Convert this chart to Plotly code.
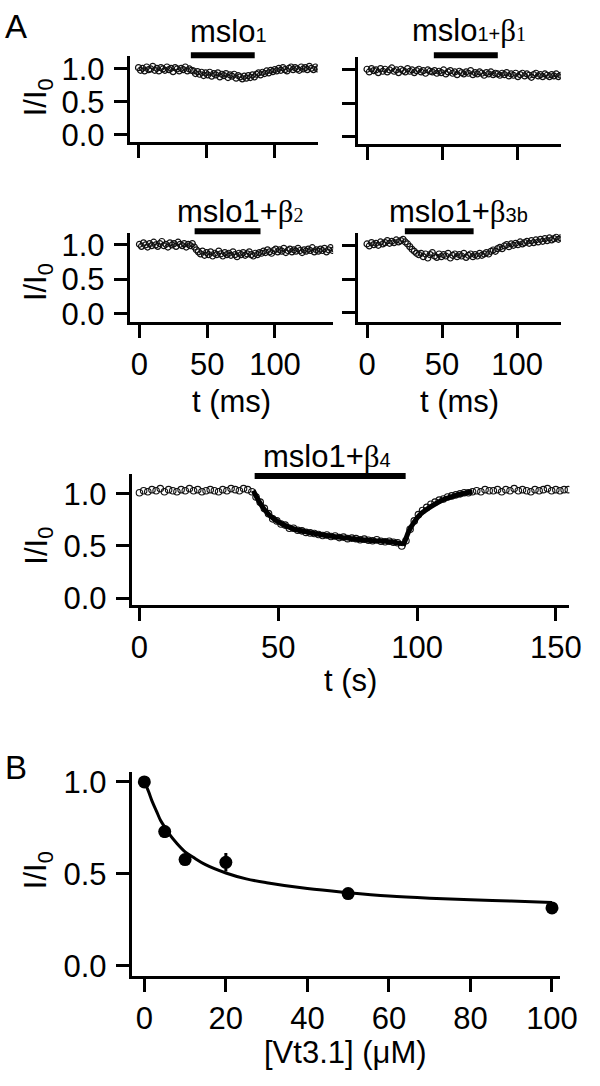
import numpy as np
import plotly.graph_objects as go

W, H = 600, 1086
def fx(p): return p / W
def fy(p): return 1 - p / H

FONT = "Liberation Sans, Arial, sans-serif"
SERIF = "Liberation Serif, Times New Roman, serif"
FS = 31

# ---------------- data ----------------
# Panel A traces: normalised current I/I0, sampled every 1.5 ms
i_mslo1 = [1.02,0.98,1.01,0.97,1.03,0.99,1.00,1.04,0.98,1.01,0.97,1.02,1.00,0.98,1.03,0.99,1.01,0.96,1.02,1.00,0.97,1.01,0.99,1.03,0.97,1.00,0.98,
           0.97,0.93,0.96,0.92,0.95,0.90,0.94,0.91,0.95,0.89,0.93,0.91,0.94,0.88,0.92,0.90,0.93,0.87,0.91,0.89,0.92,0.86,0.90,0.88,0.85,0.89,0.86,0.90,0.87,0.91,0.88,0.92,
           0.94,0.91,0.95,0.93,0.97,0.94,0.98,0.96,0.99,0.97,1.01,0.98,1.02,0.99,0.97,1.01,1.03,0.99,1.02,1.00,0.98,1.03,1.00,1.02,0.99,1.04,1.01,0.99,1.03,1.00,1.02,1.01]
i_beta1 = [1.01,0.97,1.02,0.99,1.00,0.96,1.02,0.98,1.01,0.97,1.00,1.03,0.98,1.00,0.96,1.01,0.99,0.97,1.02,0.98,1.00,0.96,0.99,1.01,0.97,0.99,0.95,1.00,0.98,0.97,
           0.99,0.95,0.98,0.96,1.00,0.94,0.97,0.99,0.95,0.97,0.93,0.98,0.96,0.94,0.97,0.95,0.99,0.93,0.96,0.94,0.97,0.95,0.92,0.96,0.94,0.97,0.93,0.95,0.94,
           0.92,0.95,0.93,0.96,0.91,0.94,0.92,0.95,0.90,0.93,0.95,0.91,0.94,0.92,0.89,0.93,0.95,0.91,0.93,0.90,0.94,0.92,0.90,0.93,0.91,0.94,0.90,0.92,0.91]
i_beta2 = [1.01,0.98,1.03,1.00,0.97,1.02,0.99,1.04,1.00,0.98,1.02,1.05,0.99,1.01,0.97,1.03,1.00,1.02,0.98,1.04,1.01,0.99,1.02,0.97,1.01,0.99,1.02,
           0.97,0.93,0.90,0.87,0.91,0.85,0.89,0.86,0.90,0.84,0.88,0.86,0.91,0.87,0.84,0.89,0.86,0.88,0.85,0.90,0.86,0.83,0.88,0.86,0.89,0.85,0.87,0.90,0.86,0.84,0.88,0.86,0.89,
           0.88,0.91,0.89,0.93,0.90,0.88,0.92,0.94,0.90,0.93,0.91,0.95,0.89,0.92,0.94,0.90,0.93,0.91,0.95,0.92,0.89,0.93,0.91,0.94,0.92,0.96,0.90,0.93,0.91,0.94,0.92,0.95,0.90,0.93,0.96,0.92,0.94]
i_beta3b = [1.03,1.00,1.05,1.02,1.04,1.01,1.06,1.03,1.05,1.08,1.04,1.07,1.05,1.09,1.06,
            1.08,1.10,1.06,1.03,0.99,0.95,0.92,0.89,0.87,
            0.89,0.84,0.88,0.82,0.87,0.90,0.85,0.83,0.88,0.84,0.87,0.85,0.89,0.82,0.86,0.88,0.84,0.87,0.85,0.89,0.83,0.86,0.88,0.84,0.87,0.85,0.89,0.86,0.88,
            0.90,0.88,0.92,0.94,0.92,0.96,0.98,0.96,1.00,1.02,0.99,1.03,1.01,1.04,1.02,
            1.06,1.03,1.05,1.07,1.04,1.08,1.05,1.09,1.06,1.10,1.07,1.11,1.08,1.12,1.09,1.11,1.13,1.10,1.12,1.11]
dt_ms = 1.5
t_mslo1 = np.arange(len(i_mslo1)) * dt_ms
t_beta1 = np.arange(len(i_beta1)) * dt_ms
t_beta2 = np.arange(len(i_beta2)) * dt_ms
t_beta3b = np.arange(len(i_beta3b)) * dt_ms

# mslo1 + beta4 trace, sampled every 1.5 s
i_beta4 = [1.01,1.03,1.02,1.04,1.03,1.05,1.02,1.04,1.03,1.02,1.04,1.03,1.05,1.03,1.04,1.02,1.03,1.04,1.03,1.02,1.04,1.03,1.05,1.04,1.03,1.05,1.04,
           1.02,0.97,0.92,0.86,0.81,0.76,0.74,0.71,0.70,0.67,0.67,0.65,0.645,0.63,0.625,0.62,0.61,0.60,0.605,0.59,0.595,0.58,0.585,0.57,0.575,0.57,0.56,0.565,0.555,0.55,0.56,0.545,0.54,0.545,0.535,0.53,0.50,
           0.55,0.66,0.74,0.80,0.84,0.87,0.90,0.92,0.94,0.95,0.97,0.98,0.99,1.00,1.01,1.01,1.02,
           1.03,1.02,1.04,1.03,1.03,1.04,1.02,1.04,1.03,1.05,1.03,1.04,1.03,1.02,1.04,1.03,1.04,1.05,1.03,1.04,1.03,1.04,1.04]
dt_s = 1.5
t_beta4 = np.arange(len(i_beta4)) * dt_s
fit_on_t = [41, 43, 45, 47, 50, 53, 56, 60, 65, 70, 75, 80, 85, 90, 95]
fit_on_v = [1.03, 0.93, 0.85, 0.79, 0.73, 0.69, 0.66, 0.635, 0.61, 0.59, 0.575, 0.56, 0.55, 0.54, 0.52]
fit_off_t = [95, 96, 97, 99, 101, 104, 107, 110, 114, 118, 120]
fit_off_v = [0.50, 0.57, 0.64, 0.73, 0.80, 0.86, 0.91, 0.95, 0.985, 1.01, 1.02]

# toxin application periods (bars)
app_start = [38.6, 44.5, 40.7, 25.2, 41.5]
app_end = [85.7, 87.1, 89.3, 71.0, 95.9]

# Panel B: dose response
conc = [0, 5, 10, 20, 50, 100]
resp = [1.0, 0.73, 0.578, 0.563, 0.393, 0.315]
resp_err = [0.0, 0.035, 0.012, 0.05, 0.012, 0.012]
fit_conc = [0, 1, 2, 3, 4, 5, 6, 8, 10, 12, 15, 20, 25, 30, 40, 50, 60, 70, 80, 90, 100]
fit_resp = [1.0, 0.95, 0.89, 0.84, 0.79, 0.755, 0.72, 0.665, 0.62, 0.59, 0.55, 0.505, 0.473, 0.452,
            0.42, 0.398, 0.38, 0.368, 0.359, 0.352, 0.345]

# ---------------- figure ----------------
fig = go.Figure()

def trace_circles(t, v, ax, size=6, lw=1.2):
    fig.add_trace(go.Scatter(x=t, y=v, mode="markers", xaxis=ax[0], yaxis=ax[1],
                             marker=dict(symbol="circle-open", size=size, color="#111",
                                         line=dict(width=lw, color="#111")),
                             showlegend=False, hoverinfo="skip"))

trace_circles(t_mslo1, i_mslo1, ("x", "y"))
trace_circles(t_beta1, i_beta1, ("x2", "y2"))
trace_circles(t_beta2, i_beta2, ("x3", "y3"))
trace_circles(t_beta3b, i_beta3b, ("x4", "y4"))
trace_circles(t_beta4, i_beta4, ("x5", "y5"), size=6.5, lw=1.1)
for ft, fv in ((fit_on_t, fit_on_v), (fit_off_t, fit_off_v)):
    fig.add_trace(go.Scatter(x=ft, y=fv, mode="lines", xaxis="x5", yaxis="y5",
                             line=dict(color="black", width=5, shape="spline"),
                             showlegend=False, hoverinfo="skip"))

fig.add_trace(go.Scatter(x=fit_conc, y=fit_resp, mode="lines", xaxis="x6", yaxis="y6",
                         line=dict(color="black", width=3, shape="spline"),
                         showlegend=False, hoverinfo="skip"))
fig.add_trace(go.Scatter(x=conc, y=resp, mode="markers", xaxis="x6", yaxis="y6",
                         error_y=dict(type="data", array=resp_err, color="black", thickness=3, width=0),
                         marker=dict(symbol="circle", size=13, color="black"),
                         showlegend=False, hoverinfo="skip", cliponaxis=False))

common = dict(showline=True, linecolor="black", linewidth=3, ticks="outside", ticklen=13,
              tickwidth=3, tickcolor="black", showgrid=False, zeroline=False, fixedrange=True,
              tickfont=dict(family=FONT, size=FS, color="black"))

# (x domain px, y domain px [top,bottom], x range, y range, xticks, show x labels, show y labels)
panels = [
    ((133, 327), (50, 137), [-6.43, 132.1], [-0.104, 1.194], [0, 50, 100], False, True),
    ((369, 578), (51, 139), [-5.8, 129.0], [-0.103, 1.191], [0, 50, 100], False, False),
    ((133, 343), (230, 320), [-7.14, 142.9], [-0.114, 1.171], [0, 50, 100], True, True),
    ((369, 578), (230, 320), [-5.8, 129.0], [-0.132, 1.191], [0, 50, 100], True, False),
    ((135, 587), (475, 608), [-2.79, 154.9], [-0.066, 1.189], [0, 50, 100, 150], True, True),
    ((135, 577), (778, 985), [-3.09, 101.9], [-0.0535, 1.0535], [0, 20, 40, 60, 80, 100], True, True),
]
lay = {}
for k, (xd, yd, xr, yr, xt, xl, yl) in enumerate(panels, start=1):
    sx = "" if k == 1 else str(k)
    lay["xaxis" + sx] = dict(domain=[fx(xd[0]), fx(xd[1])], range=xr, anchor="y" + sx,
                             tickvals=xt, showticklabels=xl, ticklabelstandoff=0, **common)
    lay["yaxis" + sx] = dict(domain=[fy(yd[1]), fy(yd[0])], range=yr, anchor="x" + sx,
                             tickvals=[0, 0.5, 1.0], tickformat=".1f", showticklabels=yl,
                             ticklabelstandoff=3, **common)

# application bars
bar_y_px = [49, 49, 228, 228, 477]
shapes = []
for k in range(5):
    xr = "x" if k == 0 else "x%d" % (k + 1)
    shapes.append(dict(type="line", xref=xr, yref="paper", x0=app_start[k], x1=app_end[k],
                       y0=fy(bar_y_px[k]), y1=fy(bar_y_px[k]), line=dict(color="black", width=6)))

small = "font-size:20px"
beta = "<span style='font-family:%s'>β</span>" % SERIF
titles = [
    ("mslo<span style='%s'>1</span>" % small, 235, 25),
    ("mslo<span style='%s'>1+</span>%s<span style='font-family:%s;%s'>1</span>" % (small, beta, SERIF, small), 483, 24),
    ("mslo1+%s<span style='font-family:%s;%s'>2</span>" % (beta, SERIF, small), 247, 208),
    ("mslo1+%s<span style='%s'>3b</span>" % (beta, small), 472, 208),
    ("mslo1+%s<span style='%s'>4</span>" % (beta, small), 337, 457),
]
ann = []
for txt, x, y in titles:
    ann.append(dict(text=txt, x=fx(x), y=fy(y), xref="paper", yref="paper", xanchor="center",
                    yanchor="middle", showarrow=False, font=dict(family=FONT, size=FS, color="black")))

ylab = "I/I<sub>0</sub>"
for y in (92, 280, 548, 878):
    ann.append(dict(text=ylab, x=fx(39), y=fy(y), xref="paper", yref="paper", xanchor="center",
                    yanchor="middle", textangle=-90, showarrow=False,
                    font=dict(family=FONT, size=FS, color="black")))
for txt, x, y in (("t (ms)", 238, 401), ("t (ms)", 473, 401), ("t (s)", 361, 685),
                  ("[Vt3.1] (μM)", 356, 1063)):
    ann.append(dict(text=txt, x=fx(x), y=fy(y), xref="paper", yref="paper", xanchor="center",
                    yanchor="middle", showarrow=False, font=dict(family=FONT, size=FS, color="black")))
for txt, x, y in (("A", 15, 20), ("B", 16, 773)):
    ann.append(dict(text=txt, x=fx(x), y=fy(y), xref="paper", yref="paper", xanchor="center",
                    yanchor="middle", showarrow=False, font=dict(family=FONT, size=33, color="black")))

fig.update_layout(width=W, height=H, margin=dict(l=0, r=0, t=0, b=0),
                  paper_bgcolor="white", plot_bgcolor="white", showlegend=False,
                  shapes=shapes, annotations=ann, **lay)
fig.write_html("out.html", config={"displayModeBar": False},
               post_script="document.body.style.margin='0px';document.body.style.overflow='hidden';")
